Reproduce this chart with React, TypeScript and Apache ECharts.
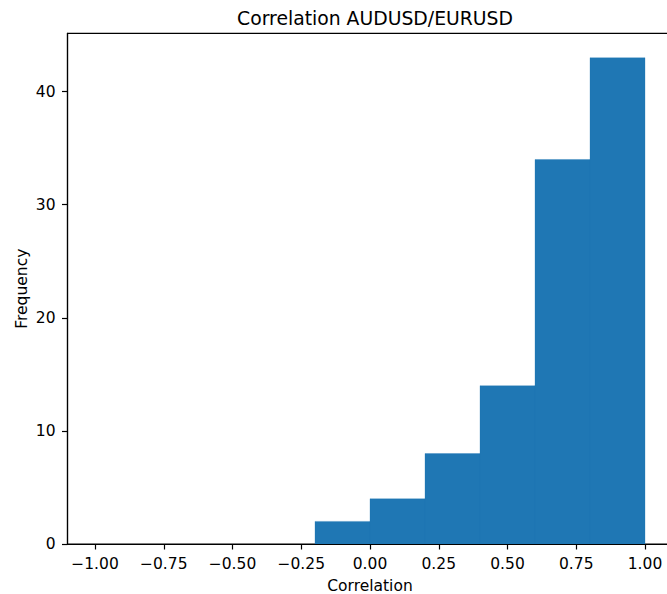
import React, { useEffect, useRef } from "react";
import * as echarts from "echarts";

const binStarts = [-0.2, 0.0, 0.2, 0.4, 0.6, 0.8];
const binEnds = [0.0, 0.2, 0.4, 0.6, 0.8, 1.0];
const counts = [2, 4, 8, 14, 34, 43];
const xTicks = [-1.0, -0.75, -0.5, -0.25, 0.0, 0.25, 0.5, 0.75, 1.0];
const yTicks = [0, 10, 20, 30, 40];
const titleText = "Correlation AUDUSD/EURUSD";
const xName = "Correlation";
const yName = "Frequency";

const FONT = "DejaVu Sans";

export default function App() {
  const ref = useRef<HTMLDivElement>(null);
  useEffect(() => {
    if (!ref.current) return;
    const chart = echarts.init(ref.current, null, { renderer: "svg" });
    const data = binStarts.map((s, i) => [s, binEnds[i], counts[i]]);
    chart.setOption({
      animation: false,
      title: {
        text: titleText,
        left: 370,
        textAlign: "center",
        top: 4,
        textStyle: { fontFamily: FONT, fontSize: 18.8, fontWeight: "normal", color: "#000" },
      },
      grid: {
        left: 67.5,
        top: 33.4,
        right: 7.5,
        bottom: 50,
        outerBoundsMode: "none",
        containLabel: false,
        show: true,
        borderColor: "#000",
        borderWidth: 1.2,
        backgroundColor: "transparent",
      },
      xAxis: {
        type: "value",
        min: -1.1,
        max: 1.1,
        z: 5,
        splitLine: { show: false },
        axisLine: { show: true, onZero: false, lineStyle: { color: "#000", width: 1.2 } },
        axisTick: { show: true, length: 5.5, lineStyle: { color: "#000", width: 1.2 }, customValues: xTicks },
        axisLabel: {
          customValues: xTicks,
          margin: 12,
          fontFamily: FONT,
          fontSize: 15.5,
          color: "#000",
          formatter: (v: number) => (v < 0 ? "\u2212" : "") + Math.abs(v).toFixed(2),
        },
        name: xName,
        nameLocation: "middle",
        nameGap: 34,
        nameMoveOverlap: false,
        nameTextStyle: { fontFamily: FONT, fontSize: 15.5, lineHeight: 15, color: "#000" },
      },
      yAxis: {
        type: "value",
        min: 0,
        max: 45.15,
        z: 5,
        splitLine: { show: false },
        axisLine: { show: true, onZero: false, lineStyle: { color: "#000", width: 1.2 } },
        axisTick: { show: true, length: 5.5, lineStyle: { color: "#000", width: 1.2 }, customValues: yTicks },
        axisLabel: {
          customValues: yTicks,
          margin: 12,
          fontFamily: FONT,
          fontSize: 15.5,
          color: "#000",
        },
        name: yName,
        nameLocation: "middle",
        nameGap: 38,
        nameMoveOverlap: false,
        nameTextStyle: { fontFamily: FONT, fontSize: 15.5, color: "#000" },
      },
      series: [
        {
          type: "custom",
          clip: true,
          data,
          encode: { x: [0, 1], y: 2 },
          renderItem: (params: any, api: any) => {
            const p0 = api.coord([api.value(0), api.value(2)]);
            const p1 = api.coord([api.value(1), 0]);
            return {
              type: "rect",
              shape: { x: p0[0], y: p0[1], width: p1[0] - p0[0], height: p1[1] - p0[1] },
              style: { fill: "#1f77b4", stroke: "#1f77b4", lineWidth: 0.3 },
            };
          },
        },
      ],
    });
    return () => chart.dispose();
  }, []);
  return (
    <div style={{ position: "fixed", left: 0, top: 0, width: 667, height: 594, overflow: "hidden", background: "#fff" }}>
      <div ref={ref} style={{ width: 680, height: 594 }} />
    </div>
  );
}
